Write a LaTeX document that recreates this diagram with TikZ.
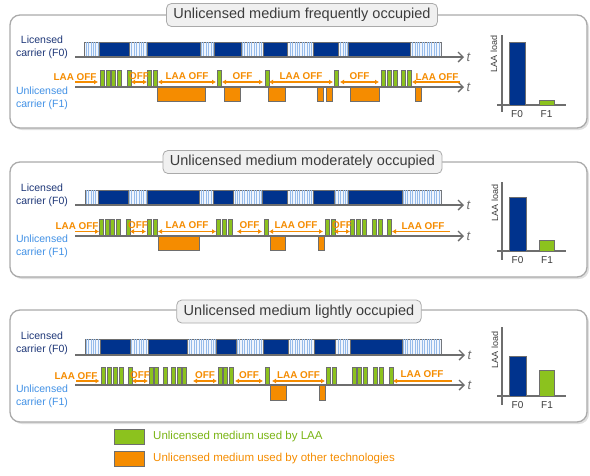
\documentclass[tikz,border=0pt]{standalone}
\usepackage{fontspec}
\setmainfont{Liberation Sans}
\usetikzlibrary{arrows.meta, patterns.meta}

\definecolor{navy}{RGB}{0, 51, 141}
\definecolor{stripe}{RGB}{150, 188, 235}
\definecolor{stripebg}{RGB}{240, 245, 253}
\definecolor{laagreen}{RGB}{140, 194, 30}
\definecolor{laatext}{RGB}{122, 180, 20}
\definecolor{otherorange}{RGB}{245, 140, 0}
\definecolor{darklabel}{RGB}{30, 55, 120}
\definecolor{lightlabel}{RGB}{65, 145, 230}
\definecolor{axisgray}{RGB}{110, 110, 110}
\definecolor{framegray}{RGB}{170, 170, 170}
\definecolor{titlegray}{RGB}{60, 60, 60}

\begin{document}
\begin{tikzpicture}[x = 1pt, y = -1pt, > = {Latex[length = 4pt, width = 5pt]},
	panel/.style = {draw = framegray, line width = 1.3pt, rounded corners = 10pt, fill = white},
	panelshadow/.style = {fill = black!12, rounded corners = 10pt},
	titlebox/.style = {draw = framegray, line width = 0.8pt, fill = black!6, rounded corners = 5pt,
		minimum height = 23pt, inner xsep = 7pt, text = titlegray, font = \fontsize{14.5}{17}\selectfont},
	navyblock/.style = {draw = axisgray, line width = 0.4pt, fill = navy},
	stripeblock/.style = {draw = axisgray, line width = 0.4pt, fill = stripebg,
		postaction = {pattern = {Lines[angle = 90, distance = 2.4pt, line width = 1pt]}, pattern color = stripe}},
	laabar/.style = {draw = axisgray, line width = 0.6pt, fill = laagreen},
	otherbar/.style = {draw = axisgray, line width = 0.6pt, fill = otherorange},
	timeaxis/.style = {draw = axisgray, line width = 1.4pt, -{Straight Barb[length = 5pt, width = 10pt]}},
	tlabel/.style = {right, inner sep = 2pt, text = axisgray, font = \fontsize{13}{15}\selectfont\itshape},
	offarrow/.style = {draw = otherorange, line width = 1.2pt},
	offtext/.style = {inner sep = 0pt, text = otherorange, font = \fontsize{9.9}{11}\selectfont\bfseries},
	carrier/.style = {align = center, font = \fontsize{10.5}{13}\selectfont},
	chartaxis/.style = {draw = axisgray, line width = 1.2pt},
	chartlabel/.style = {text = titlegray, font = \fontsize{10}{12}\selectfont}]

	\useasboundingbox (0, 0) rectangle (590, 475);

	% Frequently occupied

	\begin{scope}
		\fill [panelshadow] (12, 17) rectangle (589, 130);
		\draw [panel] (10, 15) rectangle (587, 128);
		\node [titlebox] (title1) at (302, 15) {Unlicensed medium frequently occupied};

		\node [carrier, text = darklabel] (lic1) at (42, 47) {Licensed\\carrier (F0)};
		\node [carrier, text = lightlabel] (unlic1) at (42, 98) {Unlicensed\\carrier (F1)};

		\foreach \a/\b in {84/99, 129/147, 200/214, 241/263, 287/313, 338/348, 410/441}
			\draw [stripeblock] (\a, 42) rectangle (\b, 57);
		\foreach \a/\b in {99/129, 147/200, 214/241, 263/287, 313/338, 348/410}
			\draw [navyblock] (\a, 42) rectangle (\b, 57);
		\coordinate (f0start1) at (75, 57);
		\coordinate (f0end1) at (464, 57);
		\draw [timeaxis] (f0start1) -- (f0end1) node [tlabel] (t01) {t};

		\foreach \x in {100, 106, 111.7, 117.3, 127, 147.5, 153, 217, 265, 334, 381, 387, 393, 401.5, 407.3}
			\draw [laabar] (\x, 70) rectangle ++(4, 17);
		\foreach \a/\b in {157.3/205, 224/240.7, 268.5/285.7, 317.3/323.3, 326.7/332.7, 350/379.3, 415/421.7}
			\draw [otherbar] (\a, 87) rectangle (\b, 101);
		\coordinate (f1start1) at (75, 87);
		\coordinate (f1end1) at (464, 87);
		\draw [timeaxis] (f1start1) -- (f1end1) node [tlabel] (t11) {t};

		% LAA OFF gaps
		\foreach \a/\b/\t in {131/147/OFF, 158/216/LAA OFF, 222/263/OFF, 269/333/LAA OFF, 340/379/OFF} {
			\coordinate (gapl) at (\a, 82);
			\coordinate (gapr) at (\b, 82);
			\draw [offarrow, <->] (gapl) -- node [offtext, above = 2pt] (gap-\a) {\t} (gapr);
		}
		\coordinate (in1) at (75, 82);
		\coordinate (in1b) at (98, 82);
		\draw [offarrow, ->] (in1) -- (in1b);
		\node [offtext, anchor = base] (inoff1) at (75, 80) {LAA OFF};
		\coordinate (out1) at (460, 82);
		\coordinate (out1b) at (412, 82);
		\draw [offarrow, ->] (out1) -- (out1b);
		\node [offtext, anchor = base] (outoff1) at (437, 80) {LAA OFF};

		% LAA load
		\draw [chartaxis] (497, 105) -- (566, 105);
		\draw [chartaxis] (502, 35) -- (502, 112);
		\draw [navyblock] (509, 42) rectangle (525.5, 105);
		\draw [laabar] (539, 100.7) rectangle (554, 105);
		\node [chartlabel] (f0bar1) at (517, 114) {F0};
		\node [chartlabel] (f1bar1) at (546.5, 114) {F1};
		\node [chartlabel, rotate = 90, font = \fontsize{9}{11}\selectfont] (load1) at (494, 54) {LAA load};
	\end{scope}

	% Moderately occupied

	\begin{scope}[shift = {(0, 148)}]
		\fill [panelshadow] (12, 16) rectangle (589, 131);
		\draw [panel] (10, 14) rectangle (587, 129);
		\node [titlebox] (title2) at (302.5, 14) {Unlicensed medium moderately occupied};

		\node [carrier, text = darklabel] (lic2) at (42, 47) {Licensed\\carrier (F0)};
		\node [carrier, text = lightlabel] (unlic2) at (42, 98) {Unlicensed\\carrier (F1)};

		\foreach \a/\b in {85/98, 128/147, 199/213, 233/262, 287/313, 334/348, 402/441}
			\draw [stripeblock] (\a, 42) rectangle (\b, 57);
		\foreach \a/\b in {98/128, 147/199, 213/233, 262/287, 313/334, 348/402}
			\draw [navyblock] (\a, 42) rectangle (\b, 57);
		\coordinate (f0start2) at (75, 57);
		\coordinate (f0end2) at (464, 57);
		\draw [timeaxis] (f0start2) -- (f0end2) node [tlabel] (t02) {t};

		\foreach \x in {99.3, 105, 110.7, 116.7, 126, 147.3, 153.3, 216.7, 222.7, 228.3, 264, 325, 331, 350, 356, 362, 372, 378, 387}
			\draw [laabar] (\x, 71) rectangle ++(4, 17);
		\foreach \a/\b in {158.7/199.3, 270/285.7, 318.3/324}
			\draw [otherbar] (\a, 88) rectangle (\b, 102);
		\coordinate (f1start2) at (75, 88);
		\coordinate (f1end2) at (464, 88);
		\draw [timeaxis] (f1start2) -- (f1end2) node [tlabel] (t12) {t};

		% LAA OFF gaps
		\foreach \a/\b/\t in {130/146/OFF, 158/216/LAA OFF, 237/262/OFF, 269/323/LAA OFF, 334/350/OFF} {
			\coordinate (gapl) at (\a, 83.5);
			\coordinate (gapr) at (\b, 83.5);
			\draw [offarrow, <->] (gapl) -- node [offtext, above = 2pt] (gap-\a) {\t} (gapr);
		}
		\coordinate (in2) at (75, 83.5);
		\coordinate (in2b) at (99, 83.5);
		\draw [offarrow, ->] (in2) -- (in2b);
		\node [offtext, anchor = base] (inoff2) at (77, 81.5) {LAA OFF};
		\coordinate (out2) at (450, 83.5);
		\coordinate (out2b) at (392, 83.5);
		\draw [offarrow, ->] (out2) -- (out2b);
		\node [offtext, anchor = base] (outoff2) at (423, 81.5) {LAA OFF};

		% LAA load
		\draw [chartaxis] (497, 103) -- (566, 103);
		\draw [chartaxis] (502, 34) -- (502, 112);
		\draw [navyblock] (509.5, 48.7) rectangle (525.7, 103);
		\draw [laabar] (539.3, 92) rectangle (554.3, 103);
		\node [chartlabel] (f0bar2) at (517.5, 112) {F0};
		\node [chartlabel] (f1bar2) at (547, 112) {F1};
		\node [chartlabel, rotate = 90, font = \fontsize{9}{11}\selectfont] (load2) at (495, 55) {LAA load};
	\end{scope}

	% Lightly occupied

	\begin{scope}[shift = {(0, 297)}]
		\fill [panelshadow] (12, 15) rectangle (589, 127);
		\draw [panel] (10, 13) rectangle (587, 125);
		\node [titlebox] (title3) at (299, 14.5) {Unlicensed medium lightly occupied};

		\node [carrier, text = darklabel] (lic3) at (42, 46) {Licensed\\carrier (F0)};
		\node [carrier, text = lightlabel] (unlic3) at (42, 99.5) {Unlicensed\\carrier (F1)};

		\foreach \a/\b in {85/100, 130/148, 187/216, 236/263, 288/314, 335/350, 402/441}
			\draw [stripeblock] (\a, 42) rectangle (\b, 58);
		\foreach \a/\b in {100/130, 148/187, 216/236, 263/288, 314/335, 350/402}
			\draw [navyblock] (\a, 42) rectangle (\b, 58);
		\coordinate (f0start3) at (75, 58);
		\coordinate (f0end3) at (465, 58);
		\draw [timeaxis] (f0start3) -- (f0end3) node [tlabel] (t03) {t};

		\foreach \x in {101.7, 107.5, 113.3, 118.8, 128, 149, 154.2, 163.3, 171.7, 177, 182.5, 218, 223.3, 229, 265.5, 326.7, 332.3, 352.7, 357.7, 363.3, 373.3, 379.3, 389}
			\draw [laabar] (\x, 70.5) rectangle ++(4, 17.5);
		\foreach \a/\b in {270/286.7, 319.3/325}
			\draw [otherbar] (\a, 88) rectangle (\b, 103);
		\coordinate (f1start3) at (75, 88);
		\coordinate (f1end3) at (465, 88);
		\draw [timeaxis] (f1start3) -- (f1end3) node [tlabel] (t13) {t};

		% LAA OFF gaps
		\foreach \a/\b/\t in {132/148/OFF, 193/217/OFF, 235/263/OFF, 272/325/LAA OFF} {
			\coordinate (gapl) at (\a, 84);
			\coordinate (gapr) at (\b, 84);
			\draw [offarrow, <->] (gapl) -- node [offtext, above = 2pt] (gap-\a) {\t} (gapr);
		}
		\coordinate (in3) at (76, 84);
		\coordinate (in3b) at (99.5, 84);
		\draw [offarrow, ->] (in3) -- (in3b);
		\node [offtext, anchor = base] (inoff3) at (76, 82) {LAA OFF};
		\coordinate (out3) at (452, 84);
		\coordinate (out3b) at (393, 84);
		\draw [offarrow, ->] (out3) -- (out3b);
		\node [offtext, anchor = base] (outoff3) at (422, 80.5) {LAA OFF};

		% LAA load
		\draw [chartaxis] (497, 99) -- (566, 99);
		\draw [chartaxis] (502, 30) -- (502, 108);
		\draw [navyblock] (509.5, 59) rectangle (525.7, 99);
		\draw [laabar] (539.3, 73.7) rectangle (554.3, 99);
		\node [chartlabel] (f0bar3) at (517.5, 108) {F0};
		\node [chartlabel] (f1bar3) at (547, 108) {F1};
		\node [chartlabel, rotate = 90, font = \fontsize{9}{11}\selectfont] (load3) at (495, 53) {LAA load};
	\end{scope}

	% Legend

	\draw [laabar, line width = 1pt] (114, 429) rectangle (144, 444);
	\node [anchor = west, inner sep = 0pt, text = laatext, font = \fontsize{11.5}{13}\selectfont] (legendlaa) at (153, 437) {Unlicensed medium used by LAA};
	\draw [otherbar, line width = 1pt] (114, 451) rectangle (144, 466);
	\node [anchor = west, inner sep = 0pt, text = otherorange, font = \fontsize{11.5}{13}\selectfont] (legendother) at (153, 459) {Unlicensed medium used by other technologies};

\end{tikzpicture}
\end{document}
